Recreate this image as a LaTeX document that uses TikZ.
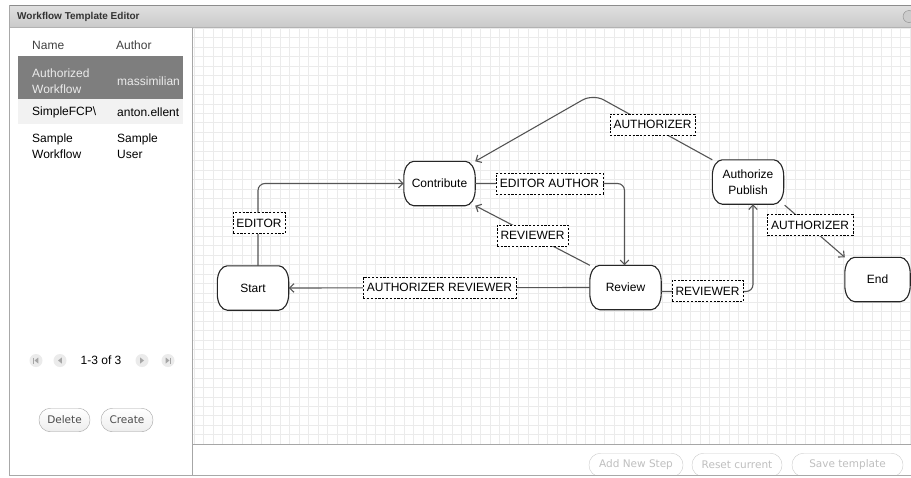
\documentclass[tikz,border=0pt]{standalone}
\usepackage{fontspec}
\setmainfont{Liberation Sans}
\newfontfamily\btnfont{DejaVu Sans}
\usetikzlibrary{arrows.meta,calc}
\definecolor{gridc}{HTML}{EBEBEB}
\definecolor{edgec}{HTML}{555555}
\definecolor{selrow}{HTML}{7E7E7E}
\definecolor{altrow}{HTML}{F2F2F2}
\definecolor{framec}{HTML}{A8A8A8}
\pgfdeclarelayer{ui}
\pgfdeclarelayer{shapes}
\pgfsetlayers{ui,shapes,main}
\tikzset{
  statebox/.style={draw=none, minimum width=71pt, minimum height=44pt, inner sep=1pt,
    align=center, font=\fontsize{12}{16}\selectfont},
  nodeline/.style={draw=black!85, line width=1.1pt, fill=white},
  flow/.style={draw=edgec, line width=1.1pt, rounded corners=7pt,
    -{Straight Barb[length=4.5pt,width=8.5pt,line width=1.1pt]}},
  lbl/.style={draw=black, dashed, dash pattern=on 2.2pt off 1.6pt, fill=white,
    inner xsep=3.7pt, inner ysep=0pt, minimum height=21pt,
    font=\fontsize{12}{14}\selectfont},
  plaintext/.style={anchor=west, inner sep=0pt, align=left,
    font=\fontsize{12}{16}\selectfont},
  pillbtn/.style={draw=#1, rounded corners=11.5pt, minimum height=23.5pt,
    inner sep=0pt, font=\btnfont\fontsize{10.5}{12}\selectfont},
  pagebtn/.style={fill=black!8, draw=none, circle, minimum size=13pt, inner sep=0pt},
}
\newcommand{\wfoutline}[1]{%
  \draw[nodeline] ($(#1.north west)+(10,0)$) -- ($(#1.north east)+(-10,0)$)
    arc[start angle=90, end angle=0, x radius=10pt, y radius=16pt]
    -- ($(#1.south east)+(0,-16)$)
    arc[start angle=0, end angle=-90, x radius=10pt, y radius=16pt]
    -- ($(#1.south west)+(10,0)$)
    arc[start angle=-90, end angle=-180, x radius=10pt, y radius=16pt]
    -- ($(#1.north west)+(0,16)$)
    arc[start angle=180, end angle=90, x radius=10pt, y radius=16pt] -- cycle;}
\begin{document}
\begin{tikzpicture}[x=1pt,y=-1pt]
\useasboundingbox (0,0) rectangle (911,477);
\begin{pgfonlayer}{ui}
\fill[white] (0,0) rectangle (911,477);

% ---- title bar ----
\shade[top color=black!12, bottom color=black!21] (9,5) rectangle (911,27);
\draw[black!45, line width=1pt] (9,5.5) -- (911,5.5);
\draw[black!30] (9,27) -- (911,27);
\node[anchor=west, inner sep=0pt, text=black!80, font=\bfseries\fontsize{10}{12}\selectfont] (title) at (17,16.5) {Workflow Template Editor};
\node[circle, fill=black!20, draw=black!45, minimum size=12pt, inner sep=0pt] (closebtn) at (909,16.5) {};

% ---- left panel ----
\fill[white] (10,27.5) rectangle (192,475);
\fill[selrow] (18,56) rectangle (183,99);
\fill[altrow] (18,99) rectangle (183,124);
\node[plaintext, text=black!75] (hname) at (32,45) {Name};
\node[plaintext, text=black!75] (hauthor) at (116,45) {Author};
\node[plaintext, text=black!8] (r1a) at (32,81) {Authorized\\Workflow};
\node[plaintext, text=black!8] (r1b) at (117,81) {massimilian};
\node[plaintext] (r2a) at (32,112) {SimpleFCP\textbackslash};
\node[plaintext] (r2b) at (117,112) {anton.ellent};
\node[plaintext] (r3a) at (32,146) {Sample\\Workflow};
\node[plaintext] (r3b) at (117,146) {Sample\\User};

% pagination
\node[pagebtn] (pfirst) at (36,360.5) {};
\node[pagebtn] (pprev) at (60,360.5) {};
\node[pagebtn] (pnext) at (142,360.5) {};
\node[pagebtn] (plast) at (168,360.5) {};
\fill[black!35] ($(pfirst)+(2.3,-3)$) -- ($(pfirst)+(2.3,3)$) -- ($(pfirst)+(-1.5,0)$) -- cycle;
\draw[black!35, line width=1pt] ($(pfirst)+(-2.5,-3)$) -- ($(pfirst)+(-2.5,3)$);
\fill[black!35] ($(pprev)+(1.8,-3)$) -- ($(pprev)+(1.8,3)$) -- ($(pprev)+(-2,0)$) -- cycle;
\fill[black!35] ($(pnext)+(-1.8,-3)$) -- ($(pnext)+(-1.8,3)$) -- ($(pnext)+(2,0)$) -- cycle;
\fill[black!35] ($(plast)+(-2.3,-3)$) -- ($(plast)+(-2.3,3)$) -- ($(plast)+(1.5,0)$) -- cycle;
\draw[black!35, line width=1pt] ($(plast)+(2.5,-3)$) -- ($(plast)+(2.5,3)$);
\node[plaintext] (pcount) at (80.5,360.5) {1-3 of 3};

% buttons
\node[pillbtn=black!35, top color=white, bottom color=black!7, text=black!70, minimum width=51pt] (delbtn) at (64.5,420) {Delete};
\node[pillbtn=black!35, top color=white, bottom color=black!7, text=black!70, minimum width=52pt] (crebtn) at (127,420) {Create};

% ---- canvas grid ----
\foreach \i in {0,...,75} { \draw[gridc, line width=0.5pt] ({194+9.55*\i},27.5) -- ({194+9.55*\i},444); }
\foreach \j in {0,...,44} { \draw[gridc, line width=0.5pt] (193,{444-9.45*\j}) -- (911,{444-9.45*\j}); }
\draw[black!35] (192.5,27.5) -- (192.5,475);
\draw[black!35] (192.5,444.5) -- (911,444.5);

% bottom buttons
\node[pillbtn=black!20, fill=white, text=black!25, minimum width=94pt] (addbtn) at (636,465) {Add New Step};
\node[pillbtn=black!20, fill=white, text=black!25, minimum width=90pt] (resetbtn) at (737,465) {Reset current};
\node[pillbtn=black!20, fill=white, text=black!25, minimum width=111pt] (savebtn) at (847.5,465) {Save template};

% frame
\fill[white] (0,475.5) rectangle (911,477);
\draw[framec, line width=1.2pt] (9.5,5) -- (9.5,476);
\draw[framec, line width=1.2pt] (9,475.5) -- (911,475.5);
\end{pgfonlayer}

% ---- workflow ----
\node[statebox] (contribute) at (439.5,183.5) {Contribute};
\node[statebox] (start) at (253,288) {Start};
\node[statebox] (review) at (625.5,287.5) {Review};
\node[statebox] (ap) at (748,182) {Authorize\\Publish};
\node[statebox, minimum width=65pt] (end) at (877.5,279.5) {End};
\coordinate (peak) at (593,94);

\begin{pgfonlayer}{shapes}
\wfoutline{contribute}
\wfoutline{start}
\wfoutline{review}
\wfoutline{ap}
\wfoutline{end}
\end{pgfonlayer}

\draw[flow] ($(start.north)+(5,0)$) |- (contribute.west);
\draw[flow] (review.west) -- (start.east);
\draw[flow] (contribute.east) -| ($(review.north)+(-1,0)$);
\draw[flow] (review.north west) -- (contribute.south east);
\draw[flow] ($(review.east)+(0,4)$) -| ($(ap.south)+(5,0)$);
\draw[flow, rounded corners=12pt] (ap.north west) -- (peak) -- (contribute.north east);
\draw[flow] ($(ap.south east)+(1,1)$) -- (end.north west);

\node[lbl] (l1) at (259,223) {EDITOR};
\node[lbl] (l2) at (439.5,287.5) {AUTHORIZER REVIEWER};
\node[lbl] (l3) at (549.5,183.5) {EDITOR AUTHOR};
\node[lbl] (l4) at (532.5,235.5) {REVIEWER};
\node[lbl] (l5) at (707.5,291) {REVIEWER};
\node[lbl] (l6) at (652.5,124.5) {AUTHORIZER};
\node[lbl] (l7) at (810,225) {AUTHORIZER};
\end{tikzpicture}
\end{document}
